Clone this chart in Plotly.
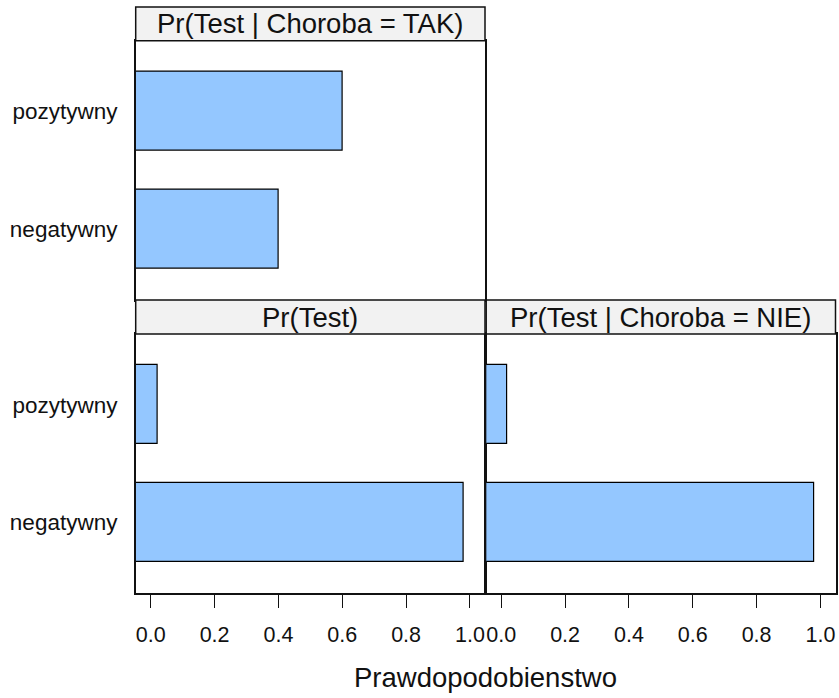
import plotly.graph_objects as go

W, H = 839, 698

categories = ["negatywny", "pozytywny"]
panel_titles = ["Pr(Test | Choroba = TAK)", "Pr(Test)", "Pr(Test | Choroba = NIE)"]
p_tak = [0.40, 0.60]
p_test = [0.9794, 0.0206]
p_nie = [0.98, 0.02]
x_tickvals = [0.0, 0.2, 0.4, 0.6, 0.8, 1.0]
x_ticktext = ["0.0", "0.2", "0.4", "0.6", "0.8", "1.0"]
x_title = "Prawdopodobienstwo"

all_vals = p_tak + p_test + p_nie
vmin, vmax = min(all_vals), max(all_vals)
pad = 0.07 * (vmax - vmin)
xr = [vmin - pad, vmax + pad]

FONT = "Liberation Sans, Arial, sans-serif"
BAR = "#94C7FF"

def xd(px):
    return px / W

def yd(px):
    return 1 - px / H

# panel geometry (pixels)
LEFT = (135.7, 485.0)
RIGHT = (486.2, 835.5)
TOP_DATA = (40.7, 300.0)
TOP_STRIP = (7.0, 40.7)
BOT_DATA = (334.0, 593.3)
BOT_STRIP = (300.0, 334.0)

fig = go.Figure()

panels = [
    (p_tak, "x", "y", LEFT, TOP_DATA, TOP_STRIP, panel_titles[0], True, False),
    (p_test, "x2", "y2", LEFT, BOT_DATA, BOT_STRIP, panel_titles[1], True, True),
    (p_nie, "x3", "y3", RIGHT, BOT_DATA, BOT_STRIP, panel_titles[2], False, True),
]

shapes = []
annotations = []
layout = {}
for i, (vals, xa, ya, xpx, ypx, spx, title, show_y, show_x) in enumerate(panels):
    fig.add_trace(go.Bar(
        y=categories, x=[v - xr[0] for v in vals], base=xr[0],
        orientation="h", width=2 / 3, xaxis=xa, yaxis=ya,
        marker=dict(color=BAR, line=dict(color="black", width=1.2)),
        showlegend=False,
    ))
    xk = "xaxis" if i == 0 else f"xaxis{i+1}"
    yk = "yaxis" if i == 0 else f"yaxis{i+1}"
    layout[xk] = dict(
        domain=[xd(xpx[0]), xd(xpx[1])], range=xr, anchor=ya,
        showgrid=False, zeroline=False,
        showline=True, mirror=True, linecolor="#111", linewidth=1.5,
        tickvals=x_tickvals if show_x else [], ticktext=x_ticktext if show_x else [],
        ticks="outside" if show_x else "", ticklen=13, tickwidth=1.4, tickcolor="#111",
        tickfont=dict(family=FONT, size=21.5, color="#111"),
        showticklabels=show_x, ticklabelstandoff=8,
    )
    layout[yk] = dict(
        domain=[yd(ypx[1]), yd(ypx[0])], range=[-0.6, 1.6], anchor=xa,
        type="category", categoryorder="array", categoryarray=categories,
        showgrid=False, zeroline=False,
        showline=True, mirror=True, linecolor="#111", linewidth=1.5,
        ticks="", showticklabels=show_y, ticklabelstandoff=12,
        tickfont=dict(family=FONT, size=22.5, color="#111"),
    )
    shapes.append(dict(
        type="rect", xref="paper", yref="paper",
        x0=xd(xpx[0]), x1=xd(xpx[1]), y0=yd(spx[1]), y1=yd(spx[0]),
        fillcolor="#F2F2F2", line=dict(color="#111", width=1.5), layer="above",
    ))
    annotations.append(dict(
        text=title, xref="paper", yref="paper",
        x=xd((xpx[0] + xpx[1]) / 2), y=yd((spx[0] + spx[1]) / 2),
        xanchor="center", yanchor="middle", showarrow=False,
        font=dict(family=FONT, size=27.5, color="#111"),
    ))

annotations.append(dict(
    text=x_title, xref="paper", yref="paper",
    x=xd((LEFT[0] + RIGHT[1]) / 2), y=yd(677), xanchor="center", yanchor="middle",
    showarrow=False, font=dict(family=FONT, size=27.5, color="#111"),
))

fig.update_layout(
    width=W, height=H, margin=dict(l=0, r=0, t=0, b=0),
    paper_bgcolor="white", plot_bgcolor="white",
    shapes=shapes, annotations=annotations, bargap=0,
    **layout,
)

fig.write_html(
    "out.html",
    config={"displayModeBar": False},
    post_script="document.body.style.margin='0';document.body.style.overflow='hidden';",
)
